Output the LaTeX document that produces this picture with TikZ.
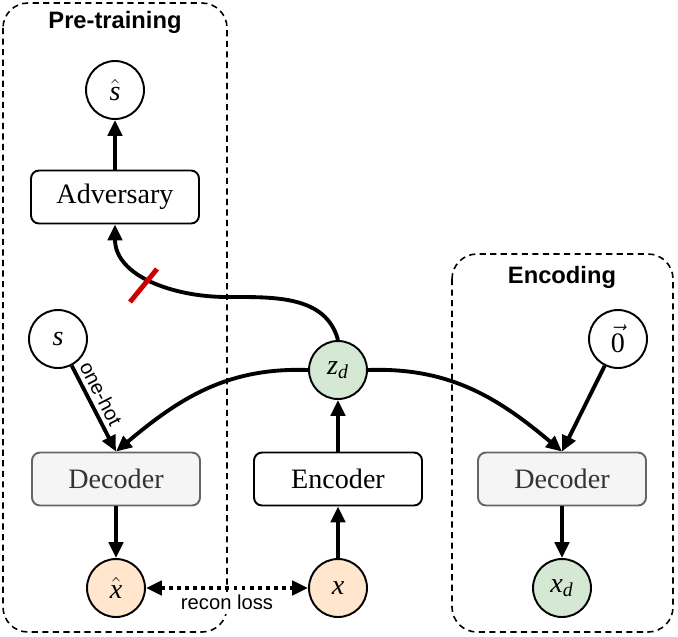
\documentclass[tikz,border=0pt]{standalone}
\usepackage{fontspec}
\setmainfont{Liberation Serif}
\setsansfont{Liberation Sans}
\usepackage{amsmath}
\usetikzlibrary{arrows.meta}
\definecolor{kutuGri}{HTML}{F5F5F5}
\definecolor{kenarGri}{HTML}{666666}
\definecolor{yaziGri}{HTML}{333333}
\definecolor{seftali}{HTML}{FFE6CC}
\definecolor{acikYesil}{HTML}{D5E8D4}
\definecolor{kesKirmizi}{HTML}{CC0000}

\begin{document}
\begin{tikzpicture}[x=0.02cm,y=0.02cm,
  var/.style={circle,draw,line width=1.1pt,minimum size=1.16cm,inner sep=0pt,font=\fontsize{16}{19}\selectfont\itshape},
  blok/.style={rectangle,rounded corners=0.16cm,draw,line width=1.1pt,minimum width=3.36cm,minimum height=1.06cm,font=\fontsize{16}{19}\selectfont},
  blokGri/.style={blok,fill=kutuGri,draw=kenarGri,text=yaziGri},
  ok/.style={-{Triangle[length=9pt,width=8pt]},line width=2.2pt},
  grup/.style={draw,dash pattern=on 3.5pt off 2.5pt,rounded corners=0.5cm,line width=0.9pt},
  baslik/.style={font=\sffamily\bfseries\fontsize{13.5}{16}\selectfont},
  etiket/.style={font=\sffamily\fontsize{11.5}{13}\selectfont}]
\useasboundingbox (0,0) rectangle (678,-636);
% kesikli gruplar
\draw[grup] (3,-3) rectangle (227,-632);
\draw[grup] (452,-254) rectangle (673,-632);
\node[baslik] (tPre) at (115,-22) {Pre-training};
\node[baslik] (tEnc) at (562,-277) {Encoding};
% dugumler
\node[var] (shat) at (115,-90) {$\hat{\text{s}}$};
\node[blok] (adv) at (115,-197) {Adversary};
\node[var] (s) at (58,-339) {s};
\node[blokGri] (decL) at (116,-479) {Decoder};
\node[var,fill=seftali] (xhat) at (116,-588) {$\hat{\text{x}}$};
\node[var,fill=acikYesil] (zd) at (338,-370) {$\text{z}_{\text{d}}$};
\node[blok] (enc) at (338,-479) {Encoder};
\node[var,fill=seftali] (x) at (338,-588) {x};
\node[var] (zero) at (618,-339) {$\vec{\text{\upshape 0}}$};
\node[blokGri] (decR) at (562,-479) {Decoder};
\node[var,fill=acikYesil] (xd) at (562,-588) {$\text{x}_{\text{d}}$};
% oklar
\draw[ok] (adv) -- (shat);
\draw[ok] (s) -- node[etiket,sloped,above,pos=0.4,inner sep=2.2pt] {one-hot} (decL.north);
\draw[ok] (zd.west) to[out=178,in=40] (decL.north);
\draw[ok] (zd.east) to[out=2,in=140] (decR.north);
\draw[ok] (zero) -- (decR.north);
\draw[ok] (decL) -- (xhat);
\draw[ok] (x) -- (enc);
\draw[ok] (enc) -- (zd);
\draw[ok] (decR) -- (xd);
\coordinate (kivrim) at (227,-297);
\draw[ok] (zd.north) to[out=105,in=0] (kivrim) to[out=180,in=-90] (adv.south);
\draw[kesKirmizi,line width=2.8pt] (130,-302) -- (157,-269);
\draw[{Triangle[length=9pt,width=8pt]}-{Triangle[length=9pt,width=8pt]},line width=2.2pt,dash pattern=on 2.2pt off 2.4pt]
  (xhat) -- node[etiket,below,fill=white,inner sep=2pt,yshift=-1pt] {recon loss} (x);
\end{tikzpicture}
\end{document}
